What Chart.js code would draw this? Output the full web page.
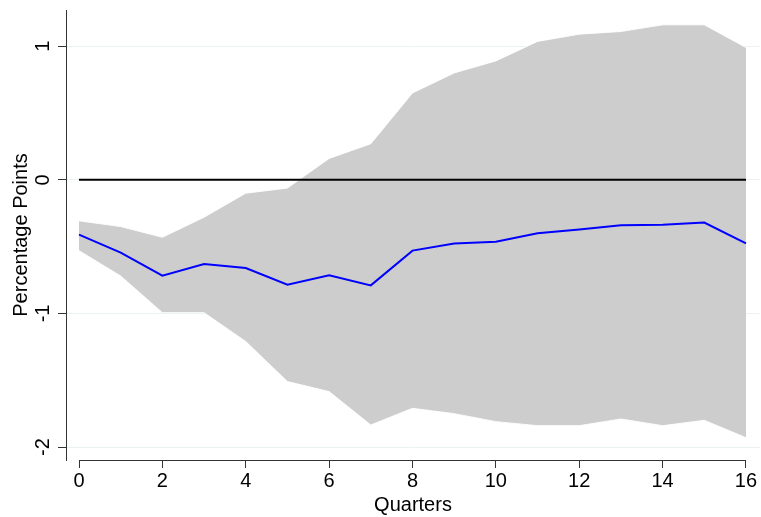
<!DOCTYPE html>
<html>
<head>
<meta charset="utf-8">
<script src="https://cdn.jsdelivr.net/npm/chart.js@4/dist/chart.umd.min.js"></script>
<style>
    html, body { margin: 0; padding: 0; background: #fff; }
    #wrap { width: 761px; height: 517px; }
</style>
</head>
<body>
<div id="wrap"><canvas id="irfChart"></canvas></div>
<script>
// quarters after the shock
const quarters = [0, 1, 2, 3, 4, 5, 6, 7, 8, 9, 10, 11, 12, 13, 14, 15, 16];
// point estimate (percentage points)
const irf = [-0.41, -0.545, -0.717, -0.63, -0.66, -0.785, -0.714, -0.79, -0.53, -0.477, -0.464, -0.40, -0.372, -0.34, -0.337, -0.32, -0.475];
// confidence band
const upperBand = [-0.307, -0.35, -0.43, -0.28, -0.10, -0.062, 0.16, 0.27, 0.65, 0.80, 0.89, 1.036, 1.09, 1.11, 1.16, 1.16, 0.99];
const lowerBand = [-0.53, -0.72, -0.994, -0.994, -1.21, -1.51, -1.585, -1.835, -1.71, -1.75, -1.81, -1.84, -1.84, -1.79, -1.84, -1.80, -1.93];
// reference line at zero
const zeroX = [0, 16];
const zeroY = [0, 0];
const xTicks = [0, 2, 4, 6, 8, 10, 12, 14, 16];
const yTicks = [-2, -1, 0, 1];

const toPoints = (xs, ys) => xs.map((x, i) => ({ x: x, y: ys[i] }));

// x axis line only spans the data range (Stata style)
const xAxisLine = {
    id: 'xAxisLine',
    afterDraw(chart) {
        const { ctx, scales: { x }, chartArea } = chart;
        ctx.save();
        ctx.strokeStyle = '#333';
        ctx.lineWidth = 1;
        ctx.beginPath();
        ctx.moveTo(x.getPixelForValue(xTicks[0]), chartArea.bottom + 0.5);
        ctx.lineTo(x.getPixelForValue(xTicks[xTicks.length - 1]), chartArea.bottom + 0.5);
        ctx.stroke();
        ctx.restore();
    }
};

const font = { family: '"Liberation Sans", Arial, Helvetica, sans-serif', size: 20 };

new Chart(document.getElementById('irfChart'), {
    type: 'line',
    data: {
        datasets: [{
            data: toPoints(quarters, upperBand),
            borderColor: 'rgba(255,255,255,0.9)',
            borderWidth: 1,
            backgroundColor: '#cdcdcd',
            pointRadius: 0,
            tension: 0,
            fill: '+1',
            order: 3
        }, {
            data: toPoints(quarters, lowerBand),
            borderColor: 'rgba(255,255,255,0.9)',
            borderWidth: 1,
            pointRadius: 0,
            tension: 0,
            fill: false,
            order: 2
        }, {
            data: toPoints(zeroX, zeroY),
            borderColor: '#000',
            borderWidth: 2,
            pointRadius: 0,
            fill: false,
            order: 1
        }, {
            data: toPoints(quarters, irf),
            borderColor: '#0000ff',
            borderWidth: 2,
            pointRadius: 0,
            tension: 0,
            fill: false,
            order: 0
        }]
    },
    plugins: [xAxisLine],
    options: {
        responsive: true,
        maintainAspectRatio: false,
        animation: false,
        layout: { padding: { top: 10, right: 1, left: 0, bottom: 0 } },
        plugins: {
            legend: { display: false },
            tooltip: { enabled: false }
        },
        scales: {
            x: {
                type: 'linear',
                min: -0.312,
                max: 16.336,
                afterBuildTicks: (scale) => { scale.ticks = xTicks.map(v => ({ value: v })); },
                afterFit: (scale) => { scale.height = 57; },
                border: { display: false },
                grid: { display: true, drawOnChartArea: false, tickLength: 8, tickColor: '#333', lineWidth: 1 },
                ticks: { color: '#000', font: font, padding: 1, maxRotation: 0 },
                title: { display: true, text: 'Quarters', color: '#000', font: font, padding: { top: -4, bottom: 0 } }
            },
            y: {
                min: -2.097,
                max: 1.271,
                afterBuildTicks: (scale) => { scale.ticks = yTicks.map(v => ({ value: v })); },
                afterFit: (scale) => {
                    scale.width = 66;
                    scale.paddingTop = 0;
                    scale.paddingBottom = 0;
                },
                border: { display: true, color: '#333', width: 1 },
                grid: { color: '#eaf2f3', lineWidth: 1, tickLength: 8, tickColor: '#333' },
                ticks: { color: '#000', font: font, padding: 6, minRotation: 90, maxRotation: 90, crossAlign: 'center' },
                title: { display: true, text: 'Percentage Points', color: '#000', font: font, padding: { top: 9, bottom: 0 } }
            }
        }
    }
});
</script>
</body>
</html>
